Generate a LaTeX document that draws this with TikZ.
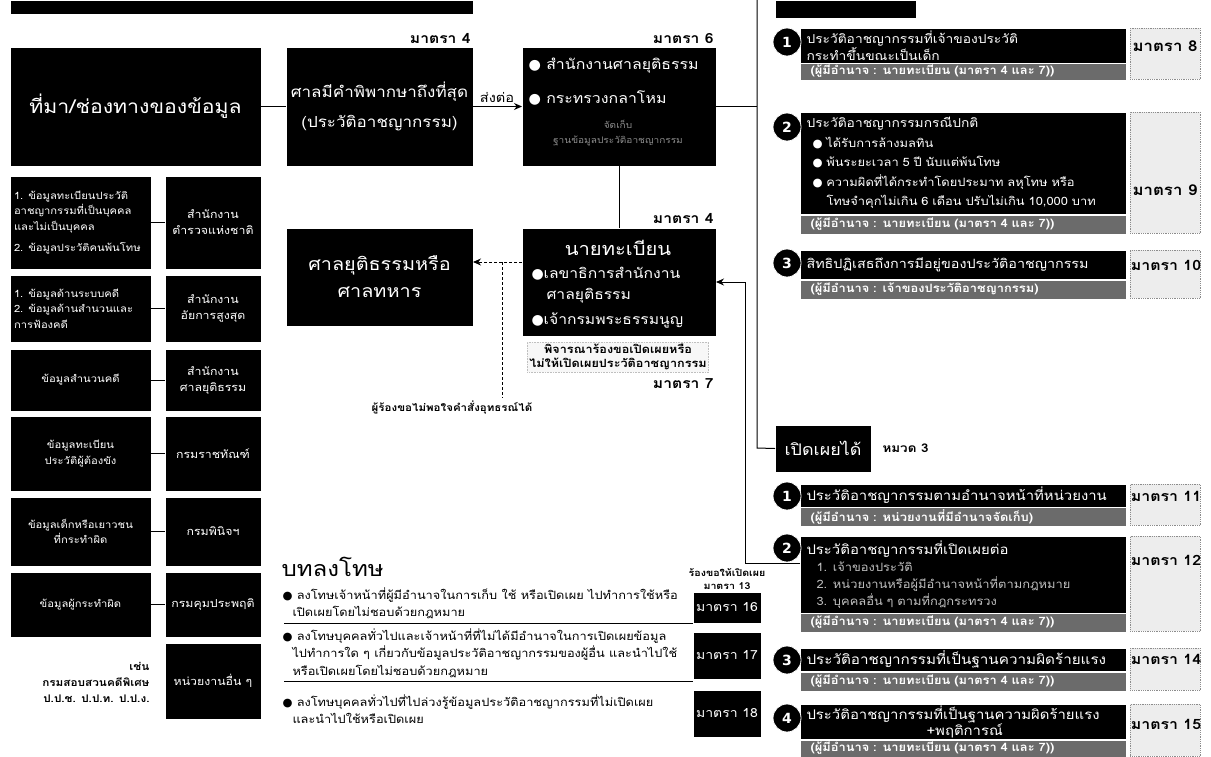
\documentclass[tikz,border=0pt]{standalone}
\usepackage{fontspec}
\setmainfont[Script=Thai,FakeStretch=1.12]{Loma}
\newfontfamily\dv{DejaVu Sans}
\newcommand\myfs[2]{\fontsize{#1}{#2}\selectfont}
\newcommand\mybul{{\dv\char"25CF}}
\usetikzlibrary{arrows.meta}
\begin{document}
\begin{tikzpicture}[x=1pt,y=-1pt,>={Stealth[length=8pt,width=7pt]},line width=1pt,
  blk/.style={fill=black,text=white,inner sep=0pt,align=center},
  bar/.style={fill=black,text=white,anchor=north west,text width=313pt,inner xsep=6pt,inner ysep=0pt,align=left,font=\myfs{12.5}{15.5}},
  noisy/.style={fill=black!58,text=white,anchor=north west,text width=305pt,inner xsep=10pt,inner ysep=0pt,align=left,font=\bfseries\myfs{11.5}{12}},
  mbox/.style={fill=black!7,draw=black!45,densely dotted,line width=0.8pt,minimum width=70pt,anchor=north west,inner sep=0pt},
  mlbl/.style={font=\bfseries\myfs{14}{15},text=black,inner sep=1pt},
  rlbl/.style={font=\bfseries\myfs{14.2}{16},text=black,inner sep=0pt},
  num/.style={circle,fill=black,draw=white,line width=0.8pt,text=white,font=\dv\bfseries\myfs{14}{14},minimum size=28pt,inner sep=0pt},
  lbox/.style={blk,anchor=north west,minimum width=140pt,font=\myfs{10}{15.5}},
  rbox/.style={blk,anchor=north west,minimum width=95pt,font=\myfs{11}{16}},
  pen/.style={anchor=north west,align=left,font=\myfs{11.4}{17.5},inner sep=0pt},
  pbox/.style={blk,anchor=north west,minimum width=67pt,font=\myfs{12.5}{15}}]
\useasboundingbox[fill=white] (0,0) rectangle (1211,756);

% top bars
\node[blk,anchor=north west,minimum width=462pt,minimum height=13pt] (topbar) at (10,0) {};
\node[blk,anchor=north west,minimum width=140pt,minimum height=17pt] (tophdr) at (775,0) {};

% main flow
\node[blk,anchor=north west,minimum width=250pt,minimum height=118pt,font=\myfs{19}{22}] (A) at (10,47) {ที่มา/ช่องทางของข้อมูล};
\node[blk,anchor=north west,minimum width=186pt,minimum height=118pt,font=\myfs{15.2}{30}] (B) at (286,47) {ศาลมีคำพิพากษาถึงที่สุด\\(ประวัติอาชญากรรม)};
\node[mlbl,anchor=south east] (m4a) at (472,45) {มาตรา 4};
\node[blk,anchor=north west,minimum width=193pt,minimum height=118pt] (C) at (522,47) {};
\node[anchor=west,text=white,font=\myfs{14.2}{16},inner sep=0pt] (c1) at (528,66) {\mybul\ สำนักงานศาลยุติธรรม};
\node[anchor=west,text=white,font=\myfs{14.2}{16},inner sep=0pt] (c2) at (528,98) {\mybul\ กระทรวงกลาโหม};
\node[text=black!45,font=\myfs{9}{11},inner sep=0pt] (c3) at (618,124) {จัดเก็บ};
\node[text=black!45,font=\myfs{9}{11},inner sep=0pt] (c4) at (618,141) {ฐานข้อมูลประวัติอาชญากรรม};
\node[mlbl,anchor=south east] (m6) at (715,45) {มาตรา 6};
\node[font=\myfs{13}{15},anchor=south,inner sep=1pt] (send) at (497,104) {ส่งต่อ};
\draw (A.east) -- (B.west);
\draw[->] (B.east) -- (C.west);

\node[blk,anchor=north west,minimum width=193pt,minimum height=107pt] (D) at (522,228) {};
\node[text=white,font=\myfs{18}{20},inner sep=0pt] (d1) at (618,248) {นายทะเบียน};
\node[text=white,anchor=west,font=\myfs{14}{15},inner sep=0pt] (d2) at (531,274) {\mybul เลขาธิการสำนักงาน};
\node[text=white,anchor=west,font=\myfs{14}{15},inner sep=0pt] (d3) at (546,296) {ศาลยุติธรรม};
\node[text=white,anchor=west,font=\myfs{14}{15},inner sep=0pt] (d4) at (531,320) {\mybul เจ้ากรมพระธรรมนูญ};
\node[mlbl,anchor=south east] (m4b) at (715,225) {มาตรา 4};
\node[font=\bfseries\myfs{11.3}{14},align=center,fill=black!3,draw=black!25,densely dotted,line width=0.6pt,inner sep=2pt] (d5) at (618,357) {พิจารณาร้องขอเปิดเผยหรือ\\ไม่ให้เปิดเผยประวัติอาชญากรรม};
\node[mlbl,anchor=east] (m7) at (715,384) {มาตรา 7};
\draw (C.south) -- (D.north);

\node[blk,anchor=north west,minimum width=186pt,minimum height=97pt,font=\myfs{17.7}{27}] (E) at (286,228) {ศาลยุติธรรมหรือ\\ศาลทหาร};
\coordinate (dw) at (522,262);
\coordinate (ap) at (502,262);
\coordinate (ab) at (502,398);
\draw[->,densely dashed] (dw) -- (E.east |- dw);
\draw[densely dashed] (ap) -- (ab);
\node[font=\bfseries\myfs{10.3}{12},inner sep=0pt] (appeal) at (452,408) {ผู้ร้องขอไม่พอใจคำสั่งอุทธรณ์ได้};

% left column
\node[lbox,minimum height=92pt,align=left,text width=133pt] (L1) at (10,176) {1. ข้อมูลทะเบียนประวัติ\\อาชญากรรมที่เป็นบุคคล\\และไม่เป็นบุคคล\\[6pt]2. ข้อมูลประวัติคนพ้นโทษ};
\node[rbox,minimum height=92pt] (R1) at (165,176) {สำนักงาน\\ตำรวจแห่งชาติ};
\node[lbox,minimum height=66pt,align=left,text width=133pt] (L2) at (10,275) {1. ข้อมูลด้านระบบคดี\\2. ข้อมูลด้านสำนวนและ\\การฟ้องคดี};
\node[rbox,minimum height=66pt] (R2) at (165,275) {สำนักงาน\\อัยการสูงสุด};
\node[lbox,minimum height=61pt] (L3) at (10,349) {ข้อมูลสำนวนคดี};
\node[rbox,minimum height=61pt] (R3) at (165,349) {สำนักงาน\\ศาลยุติธรรม};
\node[lbox,minimum height=74pt] (L4) at (10,416) {ข้อมูลทะเบียน\\ประวัติผู้ต้องขัง};
\node[rbox,minimum height=74pt] (R4) at (165,416) {กรมราชทัณฑ์};
\node[lbox,minimum height=68pt] (L5) at (10,497) {ข้อมูลเด็กหรือเยาวชน\\ที่กระทำผิด};
\node[rbox,minimum height=68pt] (R5) at (165,497) {กรมพินิจฯ};
\node[lbox,minimum height=64pt] (L6) at (10,572) {ข้อมูลผู้กระทำผิด};
\node[rbox,minimum height=64pt] (R6) at (165,572) {กรมคุมประพฤติ};
\node[rbox,minimum height=75pt] (R7) at (165,643) {หน่วยงานอื่น ๆ};
\node[anchor=east,align=right,font=\bfseries\myfs{10.5}{16},inner sep=0pt] (eg) at (150,682) {เช่น\\กรมสอบสวนคดีพิเศษ\\ป.ป.ช. ป.ป.ท. ป.ป.ง.};
\foreach \i in {1,...,6} {\draw (L\i.east) -- (R\i.west);}

% penalties
\node[anchor=west,font=\myfs{21.5}{23},inner sep=0pt] (pt) at (281,567) {บทลงโทษ};
\node[pen] (p1) at (282,587) {\mybul\ ลงโทษเจ้าหน้าที่ผู้มีอำนาจในการเก็บ ใช้ หรือเปิดเผย ไปทำการใช้หรือ\\\hspace*{10pt}เปิดเผยโดยไม่ชอบด้วยกฎหมาย};
\node[pen] (p2) at (282,628) {\mybul\ ลงโทษบุคคลทั่วไปและเจ้าหน้าที่ที่ไม่ได้มีอำนาจในการเปิดเผยข้อมูล\\\hspace*{10pt}ไปทำการใด ๆ เกี่ยวกับข้อมูลประวัติอาชญากรรมของผู้อื่น และนำไปใช้\\\hspace*{10pt}หรือเปิดเผยโดยไม่ชอบด้วยกฎหมาย};
\node[pen] (p3) at (282,694) {\mybul\ ลงโทษบุคคลทั่วไปที่ไปล่วงรู้ข้อมูลประวัติอาชญากรรมที่ไม่เปิดเผย\\\hspace*{10pt}และนำไปใช้หรือเปิดเผย};
\node[pbox,minimum height=30pt] (P16) at (693,592) {มาตรา 16};
\node[pbox,minimum height=46pt] (P17) at (693,632) {มาตรา 17};
\node[pbox,minimum height=46pt] (P18) at (693,690) {มาตรา 18};
\coordinate (u1) at (284,623);
\coordinate (u2) at (284,681);
\draw[line width=0.8pt] (u1) -- (u1 -| P16.west);
\draw[line width=0.8pt] (u2) -- (u2 -| P17.west);

% right panel: not disclosable
\node[bar,minimum height=34pt,font=\myfs{12.3}{15.5}] (k1) at (800,28) {ประวัติอาชญากรรมที่เจ้าของประวัติ\\กระทำขึ้นขณะเป็นเด็ก};
\node[noisy,minimum height=16pt] (n1) at (800,63) {(ผู้มีอำนาจ : นายทะเบียน (มาตรา 4 และ 7))};
\node[mbox,minimum height=51pt] (mb8) at (1130,28) {};
\node[rlbl,font=\bfseries\myfs{15}{16}] (l8) at (1165,46) {มาตรา 8};
\node[num] (o1) at (787,42) {1};

\node[bar,minimum height=101pt,font=\myfs{11.5}{19.5}] (k2) at (800,112) {{\myfs{12.3}{19.5}ประวัติอาชญากรรมกรณีปกติ}\\\hspace*{6pt}\mybul\ ได้รับการล้างมลทิน\\\hspace*{6pt}\mybul\ พ้นระยะเวลา 5 ปี นับแต่พ้นโทษ\\\hspace*{6pt}\mybul\ ความผิดที่ได้กระทำโดยประมาท ลหุโทษ หรือ\\\hspace*{20pt}โทษจำคุกไม่เกิน 6 เดือน ปรับไม่เกิน 10,000 บาท};
\node[noisy,minimum height=18pt] (n2) at (800,215) {(ผู้มีอำนาจ : นายทะเบียน (มาตรา 4 และ 7))};
\node[mbox,minimum height=121pt] (mb9) at (1130,112) {};
\node[rlbl,font=\bfseries\myfs{15}{16}] (l9) at (1165,190) {มาตรา 9};
\node[num] (o2) at (787,127) {2};

\node[bar,minimum height=28pt,font=\myfs{12.8}{15}] (k3) at (800,250) {สิทธิปฏิเสธถึงการมีอยู่ของประวัติอาชญากรรม};
\node[noisy,minimum height=18pt] (n3) at (800,280) {(ผู้มีอำนาจ : เจ้าของประวัติอาชญากรรม)};
\node[mbox,minimum height=48pt] (mb10) at (1130,250) {};
\node[rlbl] (l10) at (1166,265) {มาตรา 10};
\node[num] (o3) at (787,263) {3};

% right panel: disclosable
\node[blk,anchor=north west,minimum width=95pt,minimum height=46pt,font=\myfs{16}{19}] (G) at (775,425) {เปิดเผยได้};
\node[font=\bfseries\myfs{12}{14},anchor=west,inner sep=0pt] (h3) at (882,448) {หมวด 3};
\coordinate (vt) at (757,0);
\coordinate (vb) at (757,448);
\draw (vt) -- (vb) -- (G.west);
\draw (C.east) -- (C.east -| vt);

\node[bar,minimum height=22pt,font=\myfs{13.3}{15}] (q1) at (800,484) {ประวัติอาชญากรรมตามอำนาจหน้าที่หน่วยงาน};
\node[noisy,minimum height=18pt] (s1) at (800,507) {(ผู้มีอำนาจ : หน่วยงานที่มีอำนาจจัดเก็บ)};
\node[mbox,minimum height=41pt] (mb11) at (1130,484) {};
\node[rlbl] (l11) at (1166,496) {มาตรา 11};
\node[num] (e1) at (787,496) {1};

\coordinate (r2in) at (800,563);
\draw[->] (r2in) -- ++(-55,0) |- (D.east);
\node[bar,minimum height=76pt,font=\myfs{11.5}{17}] (q2) at (800,536) {{\myfs{13.3}{17}ประวัติอาชญากรรมที่เปิดเผยต่อ}\\\textcolor{black!25}{\hspace*{10pt}1. เจ้าของประวัติ}\\\textcolor{black!25}{\hspace*{10pt}2. หน่วยงานหรือผู้มีอำนาจหน้าที่ตามกฎหมาย}\\\textcolor{black!25}{\hspace*{10pt}3. บุคคลอื่น ๆ ตามที่กฎกระทรวง}};
\node[noisy,minimum height=18pt] (s2) at (800,613) {(ผู้มีอำนาจ : นายทะเบียน (มาตรา 4 และ 7))};
\node[mbox,minimum height=95pt] (mb12) at (1130,536) {};
\node[rlbl] (l12) at (1166,560) {มาตรา 12};
\node[num] (e2) at (787,548) {2};
\node[font=\bfseries\myfs{9.5}{13},align=center,inner sep=0pt] (req) at (727,579) {ร้องขอให้เปิดเผย\\มาตรา 13};

\node[bar,minimum height=22pt,font=\myfs{13.6}{15}] (q3) at (800,648) {ประวัติอาชญากรรมที่เป็นฐานความผิดร้ายแรง};
\node[noisy,minimum height=18pt] (s3) at (800,672) {(ผู้มีอำนาจ : นายทะเบียน (มาตรา 4 และ 7))};
\node[mbox,minimum height=42pt] (mb14) at (1130,648) {};
\node[rlbl] (l14) at (1166,659) {มาตรา 14};
\node[num] (e3) at (787,660) {3};

\node[bar,minimum height=34pt,font=\myfs{13.3}{16}] (q4) at (800,704) {ประวัติอาชญากรรมที่เป็นฐานความผิดร้ายแรง\\\hspace*{120pt}+พฤติการณ์};
\node[noisy,minimum height=16pt] (s4) at (800,740) {(ผู้มีอำนาจ : นายทะเบียน (มาตรา 4 และ 7))};
\node[mbox,minimum height=52pt] (mb15) at (1130,704) {};
\node[rlbl] (l15) at (1166,724) {มาตรา 15};
\node[num] (e4) at (787,718) {4};
\end{tikzpicture}
\end{document}
